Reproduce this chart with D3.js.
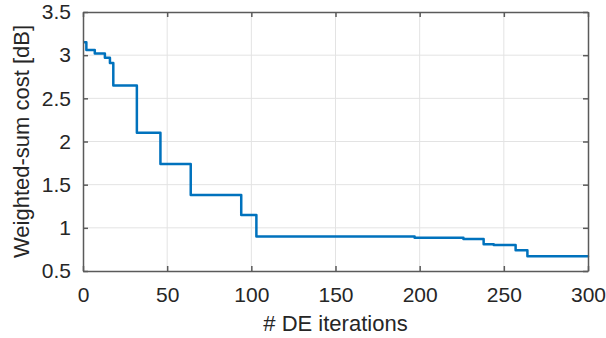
<!DOCTYPE html>
<html>
<head>
<meta charset="utf-8">
<script src="https://cdn.jsdelivr.net/npm/d3@7"></script>
<style>
  html, body { margin: 0; padding: 0; background: #fff; }
  svg { display: block; font-family: "Liberation Sans", Arial, Helvetica, sans-serif; }
</style>
</head>
<body>
<svg id="chart" width="606" height="338"></svg>
<script>
// Best cost found so far, recorded at the iterations where it improves
const iterations = [1, 2, 7, 13, 16, 18, 32, 46, 64, 94, 103, 197, 226, 238, 244, 257, 264, 300];
const costs      = [3.15, 3.06, 3.02, 2.97, 2.91, 2.65, 2.10, 1.74, 1.38, 1.15, 0.90, 0.885, 0.87, 0.81, 0.80, 0.74, 0.67, 0.67];

const xTicks = [0, 50, 100, 150, 200, 250, 300];
const yTicks = [0.5, 1, 1.5, 2, 2.5, 3, 3.5];
const xTickLabels = ["0", "50", "100", "150", "200", "250", "300"];
const yTickLabels = ["0.5", "1", "1.5", "2", "2.5", "3", "3.5"];

const margin = { left: 83, right: 18, top: 12, bottom: 67 };
const W = 606, H = 338;
const svg = d3.select("#chart");

const x = d3.scaleLinear().domain([0, 300]).range([margin.left, W - margin.right]);
const y = d3.scaleLinear().domain([0.5, 3.5]).range([H - margin.bottom, margin.top]);

const axisColor = "#262626";
const boxColor = "#5a5a5a";
const gridColor = "#e3e3e3";

// grid
const grid = svg.append("g");
grid.selectAll("line.gx").data(xTicks.slice(1, -1)).join("line")
  .attr("x1", d => x(d)).attr("x2", d => x(d))
  .attr("y1", y(0.5)).attr("y2", y(3.5))
  .attr("stroke", gridColor).attr("stroke-width", 1);
grid.selectAll("line.gy").data(yTicks.slice(1, -1)).join("line")
  .attr("y1", d => y(d)).attr("y2", d => y(d))
  .attr("x1", x(0)).attr("x2", x(300))
  .attr("stroke", gridColor).attr("stroke-width", 1);

// cost curve
const line = d3.line()
  .x((d, i) => x(iterations[i]))
  .y(d => y(d))
  .curve(d3.curveStepAfter);
svg.append("path")
  .datum(costs)
  .attr("d", line)
  .attr("fill", "none")
  .attr("stroke", "#0072BD")
  .attr("stroke-width", 2.5)
  .attr("stroke-linejoin", "round")
  .attr("stroke-linecap", "round");

// axes (ticks pointing inward, box on)
const fontSize = "21px";
const xAxis = d3.axisBottom(x).tickValues(xTicks).tickFormat((d, i) => xTickLabels[i])
  .tickSizeInner(-5).tickSizeOuter(0).tickPadding(16);
const yAxis = d3.axisLeft(y).tickValues(yTicks).tickFormat((d, i) => yTickLabels[i])
  .tickSizeInner(-5).tickSizeOuter(0).tickPadding(12);
const xTop = d3.axisTop(x).tickValues(xTicks).tickFormat("").tickSizeInner(-5).tickSizeOuter(0);
const yRight = d3.axisRight(y).tickValues(yTicks).tickFormat("").tickSizeInner(-5).tickSizeOuter(0);

function style(g) {
  g.select(".domain").attr("stroke", boxColor).attr("stroke-width", 1.5);
  g.selectAll(".tick line").attr("stroke", boxColor).attr("stroke-width", 1.5);
  g.selectAll(".tick text").attr("fill", axisColor).attr("font-size", fontSize);
}

svg.append("g").attr("transform", `translate(0,${y(0.5)})`).call(xAxis).call(style)
  .attr("font-family", null)
  .selectAll(".tick text").attr("dy", "0.71em");
svg.append("g").attr("transform", `translate(${x(0)},0)`).call(yAxis).call(style)
  .attr("font-family", null);
svg.append("g").attr("transform", `translate(0,${y(3.5)})`).call(xTop).call(style);
svg.append("g").attr("transform", `translate(${x(300)},0)`).call(yRight).call(style);

// axis titles
svg.append("text")
  .attr("x", (x(0) + x(300)) / 2).attr("y", 331)
  .attr("text-anchor", "middle")
  .attr("font-size", "22px").attr("fill", axisColor)
  .text("# DE iterations");
svg.append("text")
  .attr("transform", `translate(29,${(y(0.5) + y(3.5)) / 2}) rotate(-90)`)
  .attr("text-anchor", "middle")
  .attr("font-size", "22px").attr("fill", axisColor)
  .text("Weighted-sum cost [dB]");
</script>
</body>
</html>
